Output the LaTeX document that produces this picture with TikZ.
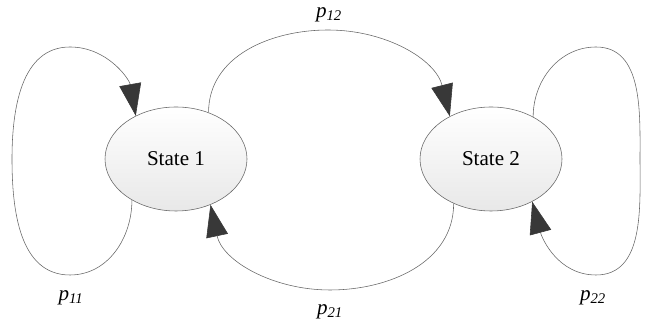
\documentclass[tikz,border=0pt]{standalone}
\usepackage{fontspec}
\setmainfont{Liberation Serif}
\usetikzlibrary{arrows.meta,shapes.geometric}

\tikzset{
  state/.style={ellipse, draw=black!60, thin, top color=white, bottom color=black!9,
    minimum width=3.55cm, minimum height=2.6cm, font=\fontsize{15}{18}\selectfont},
  trans/.style={draw=black!60, thin,
    -{Triangle[length=0.8cm, width=0.55cm, color=black!78, fill=black!78]}},
  prob/.style={font=\fontsize{15}{18}\selectfont\itshape}
}

\begin{document}
\begin{tikzpicture}
    \useasboundingbox (0,0) rectangle (16.15,8.125);
    % Estados
    \node[state] (s1) at (4.4,4.15)   {State 1};
    \node[state] (s2) at (12.275,4.15) {State 2};
    % Lazo del estado 1 — p11
    \draw[trans] (s1.223) to[out=270, in=0] (1.75,1.25) to[out=180, in=270] (0.3,4.15)
        to[out=90, in=180] (1.75,6.95) to[out=0, in=100] (s1.133);
    % Transiciones entre estados — p12, p21
    \draw[trans] (s1.55) to[out=90, in=180] (8.2,7.375) to[out=0, in=104] (s2.134);
    \draw[trans] (s2.230) to[out=270, in=0] (8.25,0.875) to[out=180, in=-78] (s1.307);
    % Lazo del estado 2 — p22
    \draw[trans] (s2.45) to[out=90, in=180] (14.9,6.95) to[out=0, in=90] (16.0,4.15)
        to[out=270, in=0] (14.9,1.25) to[out=180, in=-75] (s2.314);
    % Probabilidades
    \node[prob] (l11) at (1.775,0.675)  {p\textsubscript{11}};
    \node[prob] (l12) at (8.225,7.75)   {p\textsubscript{12}};
    \node[prob] (l21) at (8.25,0.325)   {p\textsubscript{21}};
    \node[prob] (l22) at (14.825,0.675) {p\textsubscript{22}};
\end{tikzpicture}
\end{document}
